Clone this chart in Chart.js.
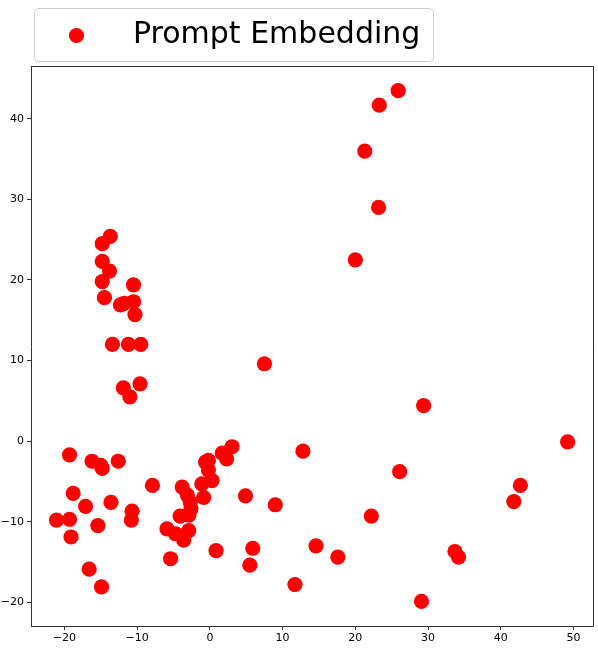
<!DOCTYPE html>
<html>
<head>
<meta charset="utf-8">
<script src="https://cdn.jsdelivr.net/npm/chart.js@4"></script>
<style>
  html, body { margin: 0; padding: 0; background: #fff; overflow: hidden; }
  #wrap { width: 598px; height: 651px; }
  canvas { display: block; }
</style>
</head>
<body>
<div id="wrap"><canvas id="chart"></canvas></div>
<script>
// Datos
const seriesLabel = 'Prompt Embedding';
const xValues = [
  25.9, 23.3, 21.3, 23.2, 20.0, 7.5, 29.4, 49.2, 42.7, 41.8, 33.7, 34.2, 26.1, 12.8, 22.2, 9.0, 4.9, 5.9, 5.5, 14.6, 17.6, 11.7, 29.1, 0.85,
  3.05, 1.7, 2.3, -0.6, -0.2, -0.2, 0.3, -1.1, -0.85, -3.8, -3.1, -2.7, -2.6, -2.9, -4.1, -5.9, -4.7, -3.6, -2.9, -5.4, -7.9,
  -19.3, -16.2, -15.0, -14.8, -12.6, -18.8, -17.1, -13.6, -10.7, -10.8, -21.1, -19.3, -15.4, -19.1, -16.6, -14.9,
  -13.7, -14.8, -14.8, -13.8, -14.8, -14.5, -10.5, -12.3, -11.8, -10.5, -10.3, -13.4, -11.2, -9.5, -11.9, -9.6, -11.0
];
const yValues = [
  43.5, 41.7, 36.0, 29.0, 22.5, 9.6, 4.4, -0.1, -5.5, -7.5, -13.7, -14.4, -3.8, -1.25, -9.3, -7.9, -6.8, -13.3, -15.4, -13.0, -14.4, -17.8, -19.9, -13.6,
  -0.7, -1.5, -2.2, -2.6, -2.4, -3.6, -4.9, -5.3, -7.0, -5.7, -6.7, -7.6, -8.4, -9.2, -9.3, -10.9, -11.5, -12.3, -11.1, -14.6, -5.5,
  -1.7, -2.5, -3.0, -3.4, -2.5, -6.5, -8.1, -7.6, -8.7, -9.8, -9.8, -9.7, -10.5, -11.9, -15.9, -18.1,
  25.4, 24.5, 22.3, 21.1, 19.8, 17.8, 19.4, 16.9, 17.1, 17.3, 15.7, 12.0, 12.0, 12.0, 6.6, 7.1, 5.5
];
const xTicks = [-20, -10, 0, 10, 20, 30, 40, 50];
const yTicks = [-20, -10, 0, 10, 20, 30, 40];

const points = xValues.map((x, i) => ({ x: x, y: yValues[i] }));
const tickFont = { family: '"DejaVu Sans"', size: 11 };

// Formato con signo menos tipografico
function fmt(v) {
  return v < 0 ? '\u2212' + Math.abs(v) : String(v);
}

// Marco del area (hasta 4px del borde derecho) y leyenda
const framePlugin = {
  id: 'frame',
  afterDraw(chart) {
    const c = chart.ctx;
    const a = chart.chartArea;
    const right = chart.width - 4.5;
    c.save();
    c.strokeStyle = '#333';
    c.lineWidth = 1;
    c.beginPath();
    c.moveTo(a.left, a.top + 0.5);
    c.lineTo(right, a.top + 0.5);
    c.lineTo(right, a.bottom + 0.5);
    c.lineTo(a.right - 1, a.bottom + 0.5);
    c.stroke();

    // leyenda
    c.fillStyle = 'rgba(255,255,255,0.8)';
    c.strokeStyle = '#cccccc';
    c.beginPath();
    c.roundRect(34.5, 8.5, 399, 53, 4);
    c.fill();
    c.stroke();
    c.fillStyle = '#ff0000';
    c.beginPath();
    c.arc(76.5, 35.5, 7.6, 0, Math.PI * 2);
    c.fill();
    c.fillStyle = '#000';
    c.font = '30px "DejaVu Sans"';
    c.textBaseline = 'middle';
    c.fillText(seriesLabel, 133, 35);
    c.restore();
  }
};

new Chart(document.getElementById('chart'), {
  type: 'scatter',
  data: {
    datasets: [{
      label: seriesLabel,
      data: points,
      backgroundColor: '#ff0000',
      borderWidth: 0,
      pointRadius: 7.6,
      pointHoverRadius: 7.6
    }]
  },
  options: {
    responsive: true,
    maintainAspectRatio: false,
    animation: false,
    clip: false,
    layout: { padding: { top: 66, right: 4, left: 0, bottom: 0 } },
    plugins: { legend: { display: false }, tooltip: { enabled: false } },
    scales: {
      x: {
        type: 'linear',
        min: -24.6,
        max: 52.33,
        afterFit(scale) { scale.height = 25; },
        afterBuildTicks(scale) { scale.ticks = xTicks.map(v => ({ value: v })); },
        ticks: { font: tickFont, color: '#000', padding: 2, maxRotation: 0, callback: fmt },
        grid: { drawOnChartArea: false, drawTicks: true, tickLength: 4, color: '#333' },
        border: { display: true, color: '#333', width: 1 }
      },
      y: {
        type: 'linear',
        min: -22.95,
        max: 46.56,
        afterFit(scale) { scale.width = 31; },
        afterBuildTicks(scale) { scale.ticks = yTicks.map(v => ({ value: v })); },
        ticks: { font: tickFont, color: '#000', padding: 3, callback: fmt },
        grid: { drawOnChartArea: false, drawTicks: true, tickLength: 4, color: '#333' },
        border: { display: true, color: '#333', width: 1 }
      }
    }
  },
  plugins: [framePlugin]
});
</script>
</body>
</html>
